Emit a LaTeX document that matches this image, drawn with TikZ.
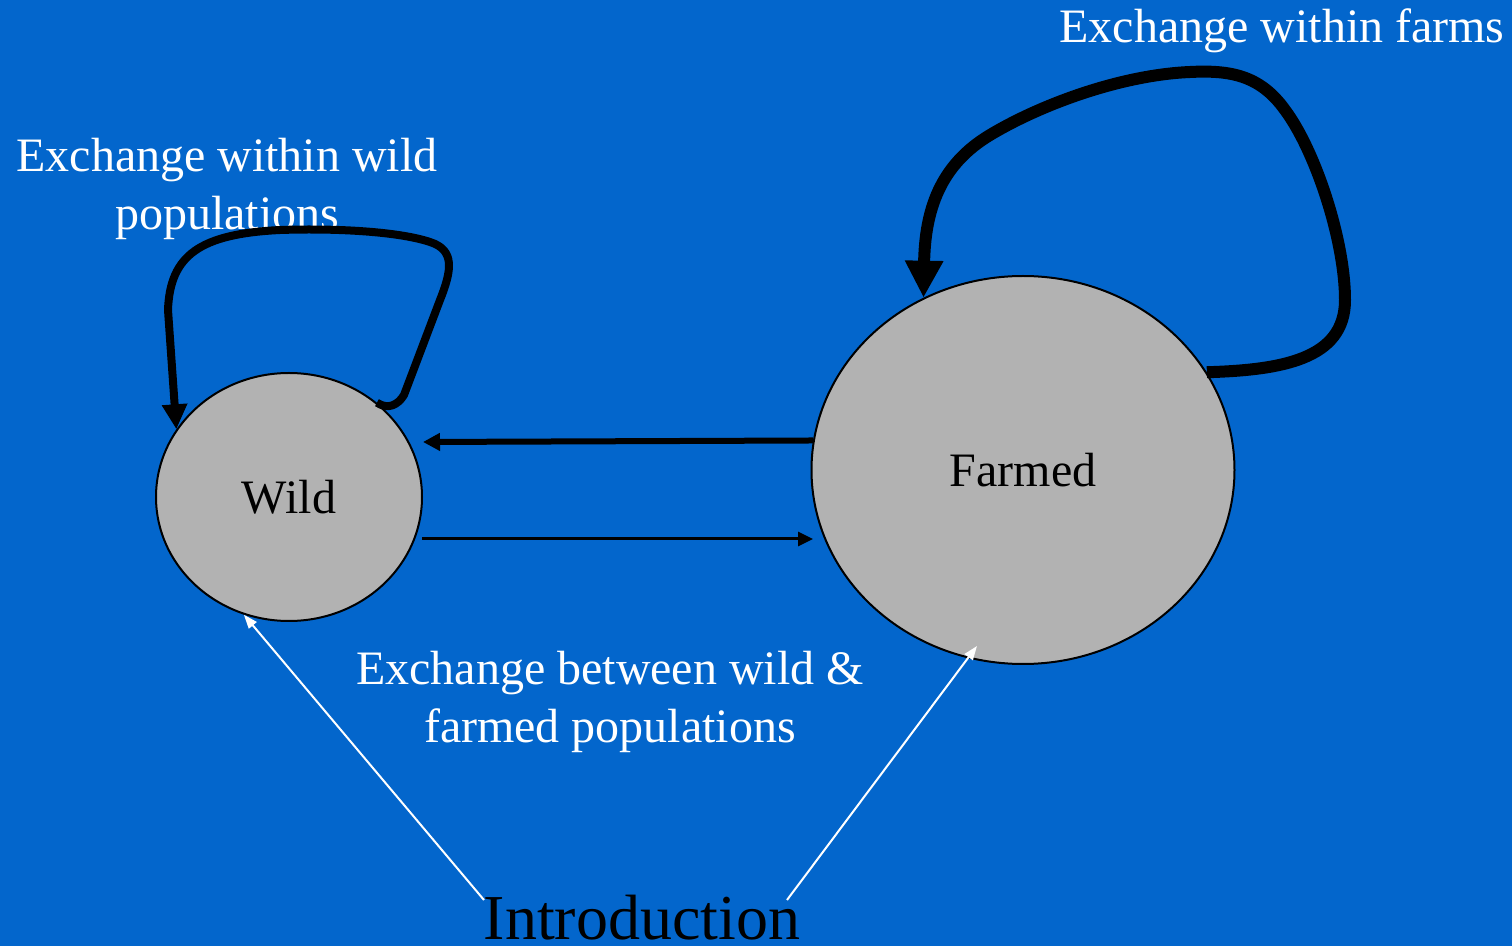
\documentclass[tikz,border=0pt]{standalone}
\usepackage{fontspec}
\setmainfont{Liberation Serif}
\usetikzlibrary{arrows.meta,shapes.geometric}
\definecolor{bgblue}{RGB}{3,102,204}
\definecolor{nodegray}{RGB}{178,178,178}
\begin{document}
\begin{tikzpicture}[x=0.5pt,y=-0.5pt,
  pop/.style={ellipse, draw=black, line width=1pt, fill=nodegray, inner sep=0pt,
    font=\fontsize{24}{29}\selectfont},
  lbl/.style={text=white, font=\fontsize{24}{29}\selectfont, align=center,
    inner sep=0pt, anchor=base},
  selfloop/.style={draw=black, line join=round},
  introarrow/.style={draw=white, line width=1pt, -{Triangle[length=7pt,width=5pt]}},
]
\useasboundingbox (0,0) rectangle (1512,946);
\fill[bgblue] (0,0) rectangle (1512,946);

% the two populations
\node[pop, minimum width=133pt, minimum height=124pt] (wild) at (289,497) {Wild};
\node[pop, minimum width=211.5pt, minimum height=194pt] (farmed) at (1023,470) {Farmed};

% labels (base anchor = baseline of the last line)
\node[lbl] (lblfarms) at (1282,43) {Exchange within farms};
\node[lbl] (lblwild) at (227,230) {Exchange within wild\\populations};
\node[lbl] (lblbetween) at (610,743) {Exchange between wild \&\\farmed populations};
\node[inner sep=0pt, anchor=base, font=\fontsize{32}{38}\selectfont] (intro) at (642,939) {Introduction};

% free ends of the connectors
\coordinate (wildin) at (423,442);
\coordinate (wildout) at (422,539);
\coordinate (farmin) at (813,539);
\coordinate (introL) at (484,900);
\coordinate (introR) at (787,900);
\coordinate (farmtip) at (977,646);

% exchange within wild populations
\draw[selfloop, line width=4pt, -{Triangle[length=12.5pt,width=12pt]}]
  (wild.47) .. controls (388,410) and (398,405) .. (404,395)
  -- (440,300)
  .. controls (452,270) and (455,250) .. (430,242)
  .. controls (400,232) and (340,228) .. (280,230)
  .. controls (200,234) and (170,255) .. (168,310)
  -- (wild.149);

% exchange within farms
\draw[selfloop, line width=6pt, -{Triangle[length=18.5pt,width=18pt]}]
  (farmed.28) .. controls (1280,370) and (1345,360) .. (1345,300)
  .. controls (1345,240) and (1315,150) .. (1285,110)
  .. controls (1260,75) and (1230,70) .. (1190,72)
  .. controls (1120,75) and (1040,105) .. (990,135)
  .. controls (940,165) and (925,210) .. (farmed.120);

% exchange between wild and farmed
\draw[line width=3pt, -{Triangle[length=8.5pt,width=8.5pt]}] (farmed.172) -- (wildin);
\draw[line width=1.5pt, -{Triangle[length=7.5pt,width=7pt]}] (wildout) -- (farmin);

% introductions
\draw[introarrow] (introL) -- (wild.249);
\draw[introarrow] (introR) -- (farmtip);
\end{tikzpicture}
\end{document}
